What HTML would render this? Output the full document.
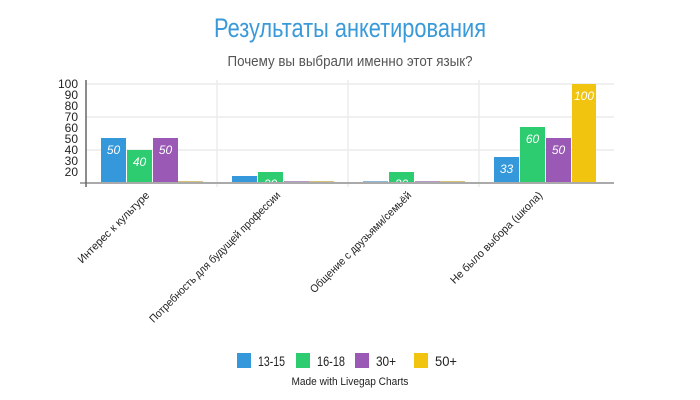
<!DOCTYPE html>
<html><head><meta charset="utf-8"><style>body{margin:0;background:#fff}svg{display:block}</style></head><body>
<svg width="700" height="400" xmlns="http://www.w3.org/2000/svg" font-family="'Liberation Sans', 'DejaVu Sans', sans-serif">
<text x="350" y="37" text-anchor="middle" font-size="27" fill="#3a9ad9" textLength="272" lengthAdjust="spacingAndGlyphs">Результаты анкетирования</text>
<text x="350" y="66" text-anchor="middle" font-size="15" fill="#555" textLength="245" lengthAdjust="spacingAndGlyphs">Почему вы выбрали именно этот язык?</text>
<g stroke="#ececec" stroke-width="1.5">
<line x1="86" y1="84" x2="614" y2="84"/><line x1="86" y1="117" x2="614" y2="117"/><line x1="86" y1="150" x2="614" y2="150"/>
<line x1="217" y1="80" x2="217" y2="187"/><line x1="348" y1="80" x2="348" y2="187"/><line x1="479" y1="80" x2="479" y2="187"/>
</g>
<g font-size="12" fill="#222" text-anchor="end">
<text x="78" y="88">100</text><text x="78" y="99">90</text><text x="78" y="110">80</text><text x="78" y="121">70</text><text x="78" y="132">60</text><text x="78" y="143">50</text><text x="78" y="154">40</text><text x="78" y="165">30</text><text x="78" y="176">20</text>
</g>
<g>
<rect x="101" y="138" width="25" height="45" fill="#3498db"/>
<rect x="127" y="150" width="25" height="33" fill="#2ecc71"/>
<rect x="153" y="138" width="25" height="45" fill="#9b59b6"/>
<rect x="178" y="181" width="25" height="2" fill="#d4c27a"/>
<rect x="232" y="176" width="25" height="7" fill="#3498db"/>
<rect x="258" y="172" width="25" height="11" fill="#2ecc71"/>
<rect x="284" y="181" width="25" height="2" fill="#b79ac4"/>
<rect x="309" y="181" width="25" height="2" fill="#d4c27a"/>
<rect x="363" y="181" width="25" height="2" fill="#8fb8d8"/>
<rect x="389" y="172" width="25" height="11" fill="#2ecc71"/>
<rect x="415" y="181" width="25" height="2" fill="#b79ac4"/>
<rect x="440" y="181" width="25" height="2" fill="#d4c27a"/>
<rect x="494" y="157" width="25" height="26" fill="#3498db"/>
<rect x="520" y="127" width="25" height="56" fill="#2ecc71"/>
<rect x="546" y="138" width="25" height="45" fill="#9b59b6"/>
<rect x="572" y="84" width="24" height="99" fill="#f1c40f"/>
</g>
<g font-size="12" fill="#fff" font-style="italic" text-anchor="middle">
<text x="113.5" y="154">50</text><text x="139.5" y="166">40</text><text x="165.5" y="154">50</text>
<text x="270.5" y="188">20</text><text x="401.5" y="188">20</text>
<text x="506.5" y="173">33</text><text x="532.5" y="143">60</text><text x="558.5" y="154">50</text><text x="584" y="100">100</text>
</g>
<line x1="80" y1="183" x2="614" y2="183" stroke="#aaa" stroke-width="2"/>
<line x1="86" y1="80" x2="86" y2="187" stroke="#666" stroke-width="1.5"/>
<g font-size="11" fill="#222" text-anchor="end">
<text transform="translate(150,196) rotate(-45)" textLength="96" lengthAdjust="spacingAndGlyphs">Интерес к культуре</text>
<text transform="translate(281,196) rotate(-45)" textLength="180" lengthAdjust="spacingAndGlyphs">Потребность для будущей профессии</text>
<text transform="translate(412,196) rotate(-45)" textLength="138" lengthAdjust="spacingAndGlyphs">Общение с друзьями/семьёй</text>
<text transform="translate(543,196) rotate(-45)" textLength="125" lengthAdjust="spacingAndGlyphs">Не было выбора (школа)</text>
</g>
<g font-size="14" fill="#222">
<rect x="237" y="353" width="14" height="15" fill="#3498db"/><text x="258" y="366" textLength="27" lengthAdjust="spacingAndGlyphs">13-15</text>
<rect x="296" y="353" width="14" height="15" fill="#2ecc71"/><text x="317" y="366" textLength="28" lengthAdjust="spacingAndGlyphs">16-18</text>
<rect x="355" y="353" width="14" height="15" fill="#9b59b6"/><text x="376" y="366" textLength="20" lengthAdjust="spacingAndGlyphs">30+</text>
<rect x="414" y="353" width="14" height="15" fill="#f1c40f"/><text x="435" y="366" textLength="22" lengthAdjust="spacingAndGlyphs">50+</text>
</g>
<text x="350" y="385" text-anchor="middle" font-size="11" fill="#222" textLength="117" lengthAdjust="spacingAndGlyphs">Made with Livegap Charts</text>
</svg>
</body></html>
